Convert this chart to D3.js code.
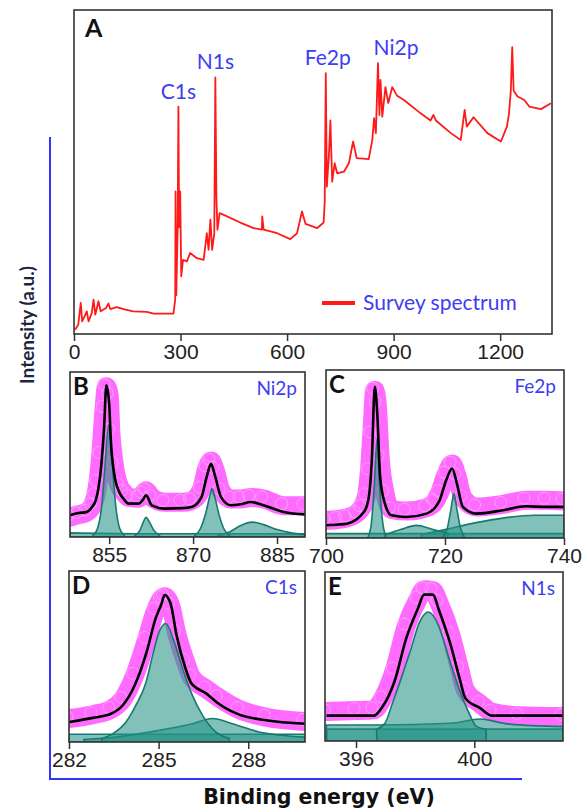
<!DOCTYPE html>
<html>
<head>
<meta charset="utf-8">
<script src="https://cdn.jsdelivr.net/npm/d3@7"></script>
<style>
  body { margin: 0; background: #fff; }
  svg { font-family: Lato, "Open Sans", sans-serif; }
  .tick text { font-size: 21px; fill: #222; }
  .tick line { stroke: #333; stroke-width: 1.5; }
</style>
</head>
<body>
<div id="chart"></div>
<script>
// ---- survey spectrum (panel A)
var surveyEnergy = [3,12,19,23,30,36,41,50,55,60,69,75,90,97,102,120,145,167,205,224,280,285,286,288,292,294,296,299,302,307,318,327,346,365,374,379,384,389,395,398,401,404,410,431,468,506,529,530,534,572,609,628,642,652,685,703,706,709,712,718,722,727,734,741,760,774,786,796,830,840,845,850,856,860,863,868,877,885,896,910,929,976,1004,1012,1019,1061,1089,1100,1106,1125,1164,1202,1219,1225,1230,1234,1238,1249,1268,1282,1315,1343];
var surveyIntensity = [1.3,2.9,9.6,3.9,5.5,7.0,3.9,6.5,10.6,6.0,10.1,7.0,8.0,9.4,7.7,8.3,7.5,7.0,6.8,6.3,6.3,10.6,44,12,33,70.2,33,44,17.8,22.9,22.4,25,23.4,22.9,31.1,26,35.3,26,31,79.2,41.9,32.2,37.3,36.3,34.4,32.7,32.2,36.3,32.2,31.1,29.3,31.1,37.8,34,32.7,34.4,40.9,80.5,45.5,55.6,65.9,47,52.7,49.6,50.1,52.7,59.4,54.3,54,59.9,66.6,62,83.6,67.6,78.4,67.1,76.2,71.3,76.2,73.5,72.2,68.1,65.9,67.6,65.9,62,59.9,69.2,64,66.9,62,59.4,64,68.1,75.1,88.5,75.1,73.3,72.2,70.2,69.4,71.2];
var surveyTicks = [0, 300, 600, 900, 1200];
var surveyPeaks = [
  {name: "C1s", energy: 294, intensity: 70.2},
  {name: "N1s", energy: 398, intensity: 79.2},
  {name: "Fe2p", energy: 709, intensity: 80.5},
  {name: "Ni2p", energy: 856, intensity: 83.6}
];

// ---- Ni2p (panel B)
var niEnergy = [848,849.5,851,852,852.6,853,853.5,854.1,854.5,855,855.3,855.9,856.8,857.6,858.5,860.3,861,861.6,862.6,865,868,869.7,871.5,872.5,873.2,873.9,875,876.8,878.5,880.3,882.6,886.2,890];
var niRaw = [12,13.5,15,19,25,33,50,78,91,86,64,44,31,27,24,23.5,26,28,24,21,21,22,29,42,46,41,28,23,23,24,23,19,19];
var niFit = [13.1,14.5,15.2,18.5,22.2,28,40.4,66.7,91.9,80.8,58.6,38.4,27.3,23,20.2,20.2,22.5,25.3,19.2,17.2,17.5,18.2,24.2,37.4,44.4,37.4,24.2,19.2,19.8,21.2,19.2,15.2,13.7];
var niBg = [[848,2.5],[860,2],[875,2],[890,2]];
var niPeak1 = [[852.1,1],[852.9,5],[853.6,17],[854.2,40],[854.9,67.7],[855.6,42],[856.2,18],[856.9,5],[857.7,1]];
var niPeak2 = [[859.6,1],[860.5,4],[861.1,9],[861.6,12],[862.2,9],[863,4],[864,1]];
var niPeak3 = [[870.3,1],[871.3,5],[872.3,15],[873,25],[873.4,29.3],[873.9,24],[874.6,14],[875.5,5],[876.5,1]];
var niPeak4 = [[874.5,1],[876.5,3],[878.5,7],[880.6,9],[882.6,7.5],[885,4.5],[887.5,2.5],[890,1.5]];
var niTicks = [855, 870, 885];

// ---- Fe2p (panel C)
var feEnergy = [700,702,703.5,705.1,706,706.8,707.3,707.7,708.2,708.6,709.1,709.9,711,713.5,716.9,718.3,719.1,720.2,721.2,722,723,725.3,729.7,733.6,737,740];
var feRaw = [10.5,11,12,14.5,18,25,40,62,88,80,48,27,17,16,18,21.5,27,38,44,37,24,18.5,20,22.5,22.5,22];
var feFit = [7.6,8,8.5,11,14,18.5,27,46.3,90,75,36.4,20.5,13.5,12.5,14.5,18,22.5,34.4,41.4,32.4,18.5,14.5,16.5,18.9,18.5,18.5];
var feBg = [[700,2.6],[720,2.6],[740,2.6]];
var fePeak1 = [[707.1,1],[707.6,8],[708.1,30],[708.6,59],[709,32],[709.5,10],[710,1]];
var fePeak2 = [[719.7,1],[720.4,6],[721,17],[721.5,26.4],[722,17],[722.6,6],[723.2,1]];
var feSat1 = [[710,2],[712.5,5],[715.2,7.5],[718,5],[720.5,3]];
var feSat2 = [[716,2],[720,5],[725,9],[730,12],[735,13.5],[740,13.5]];
var feTicks = [700, 720, 740];

// ---- C1s (panel D)
var cEnergy = [282,282.8,283.4,283.8,284.2,284.6,284.9,285.1,285.2,285.4,285.6,285.9,286.1,286.6,287,287.7,288.6,289.9];
var cRaw = [13.7,16,19,25,39,60,77,84,85,80,64,47,38,31,26,19,14.5,12];
var cFit = [11.7,14.1,16.5,21.5,33.2,52.7,72.3,81,86,81,62.5,43,34.2,28.3,22.5,16,12.7,10.7];
var cBg = [[282,4.5],[286,4.5],[290,4.5]];
var cPeak1 = [[283.1,2],[283.47,4.9],[283.91,11.7],[284.24,21.5],[284.58,35],[284.8,50.8],[285.02,64.5],[285.24,69.3],[285.52,58.6],[285.8,43],[286.13,27.3],[286.47,15.6],[286.91,5.9],[287.36,2]];
var cPeak2 = [[282.5,1.5],[283.36,2.5],[285.02,6.8],[286.13,10.7],[286.8,13.7],[287.47,10.7],[288.36,5.9],[289.9,2.9]];
var cTicks = [282, 285, 288];

// ---- N1s (panel E)
var nEnergy = [395,396,396.6,396.9,397.3,397.7,398.1,398.3,398.6,398.8,399.2,399.5,399.7,400.2,400.6,401.5,403];
var nRaw = [17.4,18,18.5,25,42,68,84,89.5,89,82,63,43,30,22,17,15,14.5];
var nFit = [15,15,15,20.4,35.2,60.9,78.7,86.6,86.6,77.7,56.9,37.2,25.3,19.4,15,15,15];
var nBg = [[395,7],[403,7]];
var nPeak1 = [[396.7,7],[396.98,10.5],[397.21,21.3],[397.49,35.2],[397.83,53],[398.16,70.8],[398.45,76.3],[398.78,68.8],[399.18,47],[399.52,29.2],[399.8,17.4],[400.08,8.5],[400.4,7]];
var nPeak2 = [[395,9.5],[396.7,9.5],[399.2,10.5],[400.2,13],[401.2,10],[403,8.5]];
var nTicks = [396, 400];

var W = 584, H = 810;
var blueText = "#3d3df2";

var svg = d3.select("#chart").append("svg")
    .attr("width", W)
    .attr("height", H);

// outer L-shaped axis in blue
svg.append("path")
    .attr("d", "M50,137 L50,779 L522,779")
    .attr("fill", "none")
    .attr("stroke", "#3333ff")
    .attr("stroke-width", 2);

svg.append("text")
    .attr("transform", "translate(34,325) rotate(-90)")
    .attr("text-anchor", "middle")
    .style("font-weight", "bold")
    .style("font-size", "19px")
    .attr("fill", "#1c2541")
    .text("Intensity (a.u.)");

svg.append("text")
    .attr("x", 319).attr("y", 804)
    .attr("text-anchor", "middle")
    .style("font-family", "'DejaVu Sans', sans-serif")
    .style("font-weight", "bold")
    .style("font-size", "20.5px")
    .attr("fill", "#111")
    .text("Binding energy (eV)");

function frame(box, domain, ticks, id) {
    var x = d3.scaleLinear().domain(domain).range([box.x0, box.x1]);
    var y = d3.scaleLinear().domain([0, 100]).range([box.y1, box.y0]);
    var g = svg.append("g");

    svg.append("clipPath").attr("id", id)
        .append("rect")
        .attr("x", box.x0).attr("y", box.y0)
        .attr("width", box.x1 - box.x0).attr("height", box.y1 - box.y0);

    var plot = g.append("g").attr("clip-path", "url(#" + id + ")");

    g.append("g")
        .attr("transform", "translate(0," + box.y1 + ")")
        .call(d3.axisBottom(x).tickValues(ticks).tickSize(7).tickPadding(3).tickFormat(d3.format("d")))
        .call(function(a){ a.select(".domain").remove(); });

    g.append("rect")
        .attr("x", box.x0).attr("y", box.y0)
        .attr("width", box.x1 - box.x0).attr("height", box.y1 - box.y0)
        .attr("fill", "none")
        .attr("stroke", "#333")
        .attr("stroke-width", 1.6);

    return {x: x, y: y, g: g, plot: plot};
}

// ---------- panel A
var A = frame({x0: 74, x1: 552, y0: 10, y1: 334}, [0, 1346], surveyTicks, "clipA");

var surveyLine = d3.line()
    .x(function(d, i){ return A.x(surveyEnergy[i]); })
    .y(function(d){ return A.y(d); });

A.plot.append("path")
    .datum(surveyIntensity)
    .attr("d", surveyLine)
    .attr("fill", "none")
    .attr("stroke", "#ff1a1a")
    .attr("stroke-width", 1.8)
    .attr("stroke-linejoin", "round");

A.g.selectAll(".peaklabel")
    .data(surveyPeaks)
    .enter()
    .append("text")
    .attr("class", "peaklabel")
    .attr("x", function(d){ return A.x(d.energy) + (d.name == "Ni2p" ? 18 : (d.name == "Fe2p" ? 2 : 0)); })
    .attr("y", function(d){ return A.y(d.intensity) - 8; })
    .attr("text-anchor", "middle")
    .style("font-size", "21px")
    .attr("fill", blueText)
    .text(function(d){ return d.name; });

A.g.append("text")
    .attr("x", 85).attr("y", 37)
    .style("font-weight", "bold")
    .style("font-size", "25px")
    .attr("fill", "#111")
    .text("A");

A.g.append("line")
    .attr("x1", 322).attr("x2", 355)
    .attr("y1", 303).attr("y2", 303)
    .attr("stroke", "#ff1a1a")
    .attr("stroke-width", 4);

A.g.append("text")
    .attr("x", 363).attr("y", 310)
    .style("font-size", "21px")
    .attr("fill", blueText)
    .text("Survey spectrum");

// ---------- fitted panels
function fitPanel(box, domain, ticks, id, energy, raw, fit, comps, letter, name) {
    var P = frame(box, domain, ticks, id);
    var x = P.x, y = P.y;

    var rawLine = d3.line()
        .x(function(d, i){ return x(energy[i]); })
        .y(function(d){ return y(d); })
        .curve(d3.curveMonotoneX);

    // raw data: band of open magenta circles
    P.plot.append("path")
        .datum(raw)
        .attr("d", rawLine)
        .attr("fill", "none")
        .attr("stroke", "#ff6bff")
        .attr("stroke-width", 19)
        .attr("stroke-linejoin", "round")
        .attr("stroke-linecap", "round");

    P.plot.selectAll(".raw")
        .data(raw)
        .enter()
        .append("circle")
        .attr("cx", function(d, i){ return x(energy[i]) - 2; })
        .attr("cy", function(d){ return y(d) - 2; })
        .attr("r", 6)
        .attr("fill", "none")
        .attr("stroke", "#ff9cff")
        .attr("stroke-width", 1);

    var area = d3.area()
        .x(function(d){ return x(d[0]); })
        .y0(y(0))
        .y1(function(d){ return y(d[1]); })
        .curve(d3.curveMonotoneX);

    P.plot.selectAll(".comp")
        .data(comps)
        .enter()
        .append("path")
        .attr("d", area)
        .attr("fill", "rgba(38,148,136,0.58)")
        .attr("stroke", "#17796f")
        .attr("stroke-width", 1.6);

    P.plot.append("path")
        .datum(fit)
        .attr("d", rawLine)
        .attr("fill", "none")
        .attr("stroke", "#000")
        .attr("stroke-width", 2.6);

    P.g.append("text")
        .attr("x", box.x0 + 3).attr("y", box.y0 + 23)
        .style("font-weight", "bold")
        .style("font-size", "24px")
        .attr("fill", "#111")
        .text(letter);

    P.g.append("text")
        .attr("x", box.x1 - 8).attr("y", box.y0 + 23)
        .attr("text-anchor", "end")
        .style("font-size", "19px")
        .attr("fill", blueText)
        .text(name);
}

fitPanel({x0: 70, x1: 305, y0: 372, y1: 537}, [848, 890], niTicks, "clipB",
    niEnergy, niRaw, niFit, [niBg, niPeak4, niPeak1, niPeak2, niPeak3], "B", "Ni2p");
fitPanel({x0: 326, x1: 564, y0: 370, y1: 538}, [700, 740], feTicks, "clipC",
    feEnergy, feRaw, feFit, [feBg, feSat2, feSat1, fePeak1, fePeak2], "C", "Fe2p");
fitPanel({x0: 69, x1: 305, y0: 571, y1: 742}, [282, 289.9], cTicks, "clipD",
    cEnergy, cRaw, cFit, [cBg, cPeak2, cPeak1], "D", "C1s");
fitPanel({x0: 325, x1: 563, y0: 572, y1: 741}, [394.95, 403], nTicks, "clipE",
    nEnergy, nRaw, nFit, [nBg, nPeak2, nPeak1], "E", "N1s");
</script>
</body>
</html>
